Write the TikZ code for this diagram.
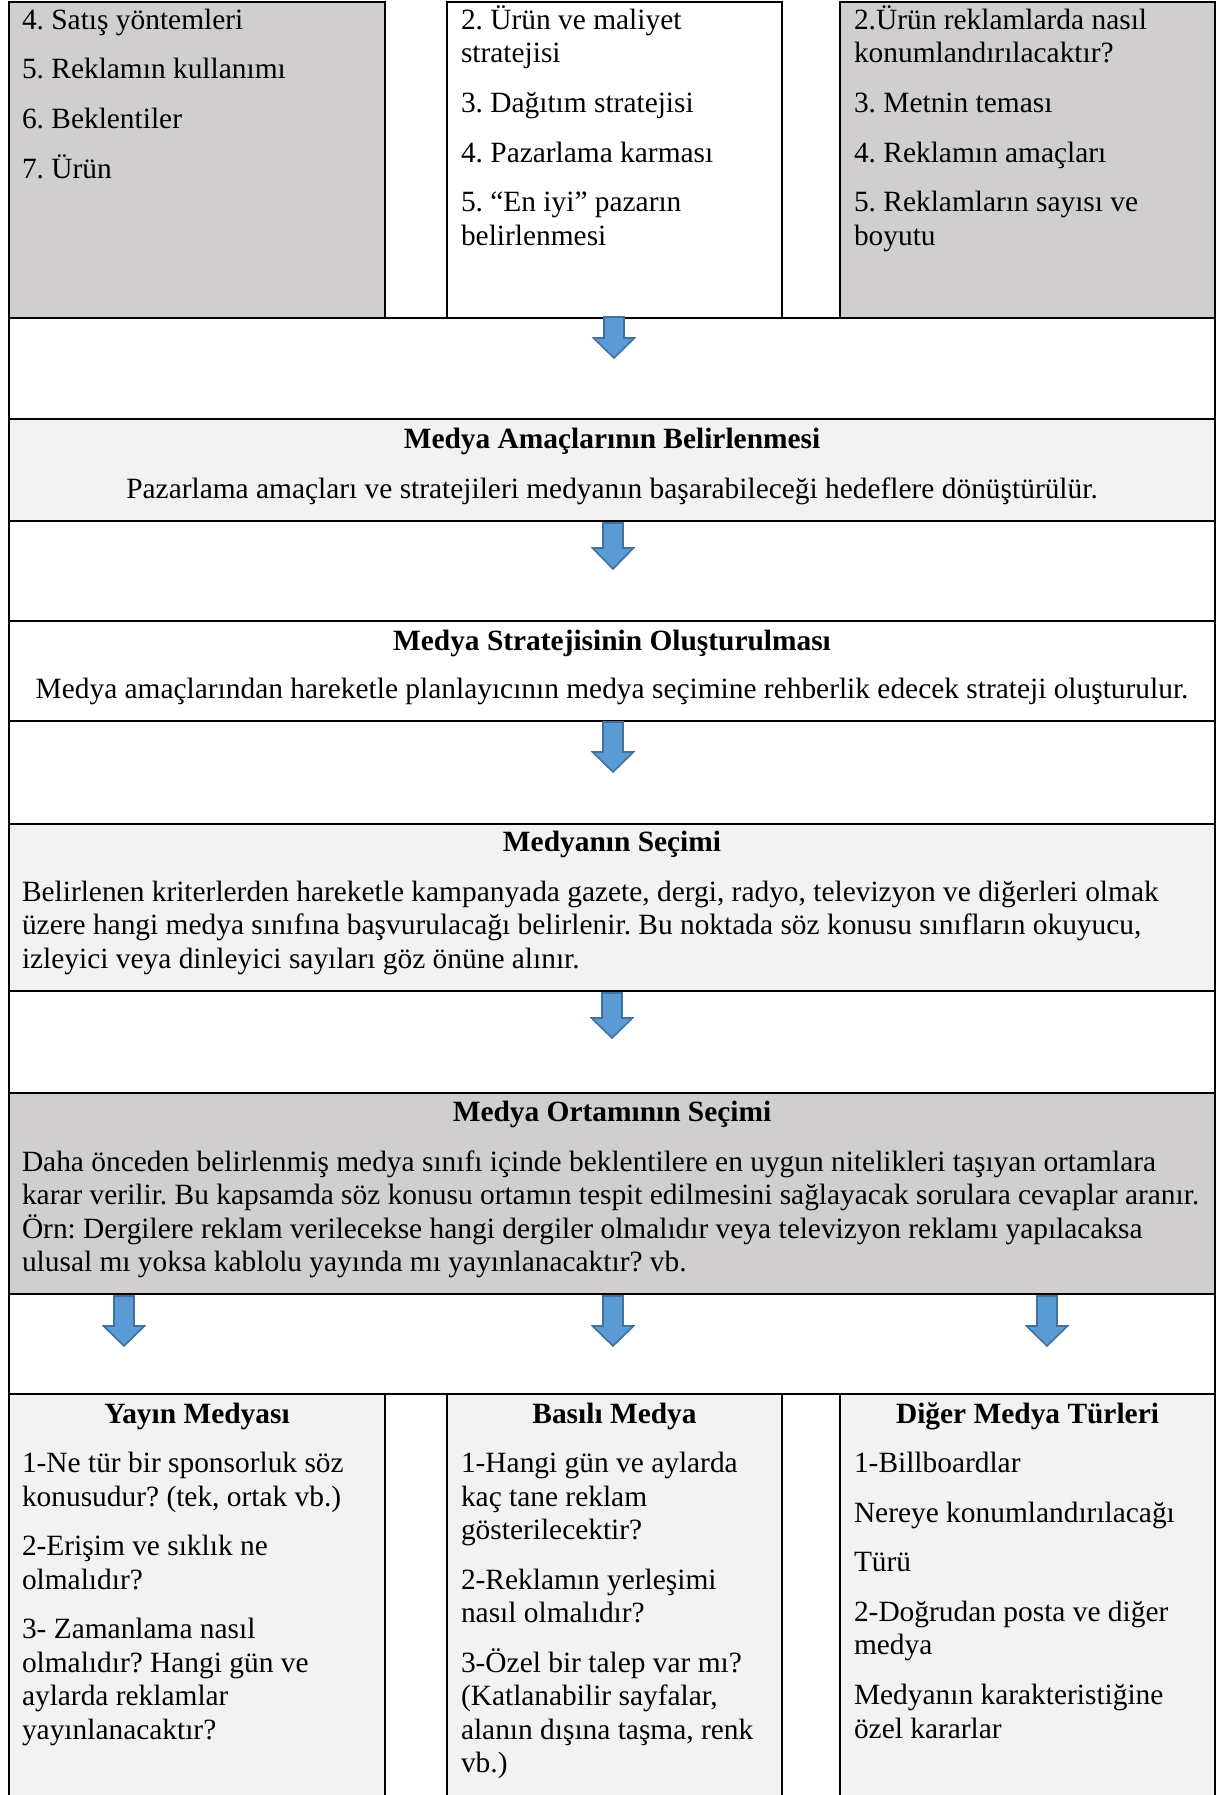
\documentclass[tikz,border=0pt]{standalone}
\usepackage{fontspec}
\setmainfont{Liberation Serif}
\definecolor{grayd}{HTML}{D0CECE}
\definecolor{grayl}{HTML}{F2F2F2}
\definecolor{arrfill}{HTML}{5B9BD5}
\definecolor{arrline}{HTML}{41719C}
\tikzset{
  cell/.style={draw=black, line width=2.4pt, inner sep=0pt, outer sep=0pt, anchor=north west},
  txt/.style={inner sep=0pt, outer sep=0pt, anchor=base west, font=\fontsize{29.4}{33.5}\selectfont},
  ctr/.style={inner sep=0pt, outer sep=0pt, anchor=base, font=\fontsize{29.4}{33.5}\selectfont},
  ttl/.style={inner sep=0pt, outer sep=0pt, anchor=base, font=\fontsize{29.4}{33.5}\selectfont\bfseries},
  blockarrow/.style={fill=arrfill, draw=arrline, line width=1.6pt, line join=miter},
  pics/darrow/.style 2 args={code={
    \draw[blockarrow] (-10,0) -- (10,0) -- (10,#1) -- (20.5,#1) -- (0,#2) -- (-20.5,#1) -- (-10,#1) -- cycle;}}
}
\newcommand\lineL[4]{\node[txt] (#1) at (#2,#3) {#4};}
\newcommand\lineC[4]{\node[ctr] (#1) at (#2,#3) {#4};}
\newcommand\lineT[4]{\node[ttl] (#1) at (#2,#3) {#4};}
\begin{document}
\frenchspacing
\begin{tikzpicture}[x=1pt, y=-1pt]
\useasboundingbox (0,0) rectangle (1221,1795);
\clip (0,0) rectangle (1221,1795);
% top row
\node[cell, fill=grayd, minimum width=376pt, minimum height=316pt] (top1) at (9,2) {};
\node[cell, fill=white, minimum width=335pt, minimum height=316pt] (top2) at (447,2) {};
\node[cell, fill=grayd, minimum width=375pt, minimum height=316pt] (top3) at (840,2) {};
% bands
\node[cell, fill=white, minimum width=1206pt, minimum height=101pt] (band1) at (9,318) {};
\node[cell, fill=grayl, minimum width=1206pt, minimum height=102pt] (boxA) at (9,419) {};
\node[cell, fill=white, minimum width=1206pt, minimum height=100pt] (band2) at (9,521) {};
\node[cell, fill=white, minimum width=1206pt, minimum height=100pt] (boxB) at (9,621) {};
\node[cell, fill=white, minimum width=1206pt, minimum height=103pt] (band3) at (9,721) {};
\node[cell, fill=grayl, minimum width=1206pt, minimum height=167pt] (boxC) at (9,824) {};
\node[cell, fill=white, minimum width=1206pt, minimum height=102pt] (band4) at (9,991) {};
\node[cell, fill=grayd, minimum width=1206pt, minimum height=201pt] (boxD) at (9,1093) {};
\node[cell, fill=white, minimum width=1206pt, minimum height=100pt] (band5) at (9,1294) {};
% bottom row
\node[cell, fill=grayl, minimum width=376pt, minimum height=420pt] (bot1) at (9,1394) {};
\node[cell, fill=grayl, minimum width=335pt, minimum height=420pt] (bot2) at (447,1394) {};
\node[cell, fill=grayl, minimum width=375pt, minimum height=420pt] (bot3) at (840,1394) {};
% arrows
\coordinate (a1) at (614,317);
\coordinate (a2) at (613,523);
\coordinate (a3) at (613,722);
\coordinate (a4) at (612,993);
\coordinate (a5) at (124,1296);
\coordinate (a6) at (613,1296);
\coordinate (a7) at (1047,1296);
\pic at (a1) {darrow={21}{41}};
\pic at (a2) {darrow={25}{46}};
\pic at (a3) {darrow={30}{50}};
\pic at (a4) {darrow={25}{45}};
\pic at (a5) {darrow={30}{50}};
\pic at (a6) {darrow={30}{50}};
\pic at (a7) {darrow={30}{50}};
% top row texts
\lineL{t11}{22}{29.5}{4. Satış yöntemleri}
\lineL{t12}{22}{79}{5. Reklamın kullanımı}
\lineL{t13}{22}{128.7}{6. Beklentiler}
\lineL{t14}{22}{178.3}{7. Ürün}
\lineL{t21}{461}{29.5}{2. Ürün ve maliyet}
\lineL{t22}{461}{63}{stratejisi}
\lineL{t23}{461}{112.6}{3. Dağıtım stratejisi}
\lineL{t24}{461}{162.2}{4. Pazarlama karması}
\lineL{t25}{461}{211.8}{5. “En iyi” pazarın}
\lineL{t26}{461}{245.3}{belirlenmesi}
\lineL{t31}{854}{29.5}{2.Ürün reklamlarda nasıl}
\lineL{t32}{854}{63}{konumlandırılacaktır?}
\lineL{t33}{854}{112.6}{3. Metnin teması}
\lineL{t34}{854}{162.2}{4. Reklamın amaçları}
\lineL{t35}{854}{211.8}{5. Reklamların sayısı ve}
\lineL{t36}{854}{245.3}{boyutu}
% box A
\lineT{ta}{612}{448}{Medya Amaçlarının Belirlenmesi}
\lineC{ba}{612}{498}{Pazarlama amaçları ve stratejileri medyanın başarabileceği hedeflere dönüştürülür.}
% box B
\lineT{tb}{612}{650}{Medya Stratejisinin Oluşturulması}
\lineC{bb}{612}{698}{Medya amaçlarından hareketle planlayıcının medya seçimine rehberlik edecek strateji oluşturulur.}
% box C
\lineT{tc}{612}{851.5}{Medyanın Seçimi}
\lineL{bc1}{22}{901}{Belirlenen kriterlerden hareketle kampanyada gazete, dergi, radyo, televizyon ve diğerleri olmak}
\lineL{bc2}{22}{934.5}{üzere hangi medya sınıfına başvurulacağı belirlenir. Bu noktada söz konusu sınıfların okuyucu,}
\lineL{bc3}{22}{968}{izleyici veya dinleyici sayıları göz önüne alınır.}
% box D
\lineT{td}{612}{1121}{Medya Ortamının Seçimi}
\lineL{bd1}{22}{1171}{Daha önceden belirlenmiş medya sınıfı içinde beklentilere en uygun nitelikleri taşıyan ortamlara}
\lineL{bd2}{22}{1204.5}{karar verilir. Bu kapsamda söz konusu ortamın tespit edilmesini sağlayacak sorulara cevaplar aranır.}
\lineL{bd3}{22}{1238}{Örn: Dergilere reklam verilecekse hangi dergiler olmalıdır veya televizyon reklamı yapılacaksa}
\lineL{bd4}{22}{1271.5}{ulusal mı yoksa kablolu yayında mı yayınlanacaktır? vb.}
% bottom col 1
\lineT{h1}{197}{1423}{Yayın Medyası}
\lineL{p11}{22}{1472.6}{1-Ne tür bir sponsorluk söz}
\lineL{p12}{22}{1506}{konusudur? (tek, ortak vb.)}
\lineL{p13}{22}{1555.7}{2-Erişim ve sıklık ne}
\lineL{p14}{22}{1589.2}{olmalıdır?}
\lineL{p15}{22}{1638.8}{3- Zamanlama nasıl}
\lineL{p16}{22}{1672.3}{olmalıdır? Hangi gün ve}
\lineL{p17}{22}{1705.8}{aylarda reklamlar}
\lineL{p18}{22}{1739.3}{yayınlanacaktır?}
% bottom col 2
\lineT{h2}{614.5}{1423}{Basılı Medya}
\lineL{p21}{461}{1472.6}{1-Hangi gün ve aylarda}
\lineL{p22}{461}{1506}{kaç tane reklam}
\lineL{p23}{461}{1539.6}{gösterilecektir?}
\lineL{p24}{461}{1589.2}{2-Reklamın yerleşimi}
\lineL{p25}{461}{1622.7}{nasıl olmalıdır?}
\lineL{p26}{461}{1672.3}{3-Özel bir talep var mı?}
\lineL{p27}{461}{1705.8}{(Katlanabilir sayfalar,}
\lineL{p28}{461}{1739.3}{alanın dışına taşma, renk}
\lineL{p29}{461}{1772.8}{vb.)}
% bottom col 3
\lineT{h3}{1027.5}{1423}{Diğer Medya Türleri}
\lineL{p31}{854}{1472.6}{1-Billboardlar}
\lineL{p32}{854}{1522.2}{Nereye konumlandırılacağı}
\lineL{p33}{854}{1571.8}{Türü}
\lineL{p34}{854}{1621.4}{2-Doğrudan posta ve diğer}
\lineL{p35}{854}{1654.9}{medya}
\lineL{p36}{854}{1704.5}{Medyanın karakteristiğine}
\lineL{p37}{854}{1738}{özel kararlar}
\end{tikzpicture}
\end{document}
